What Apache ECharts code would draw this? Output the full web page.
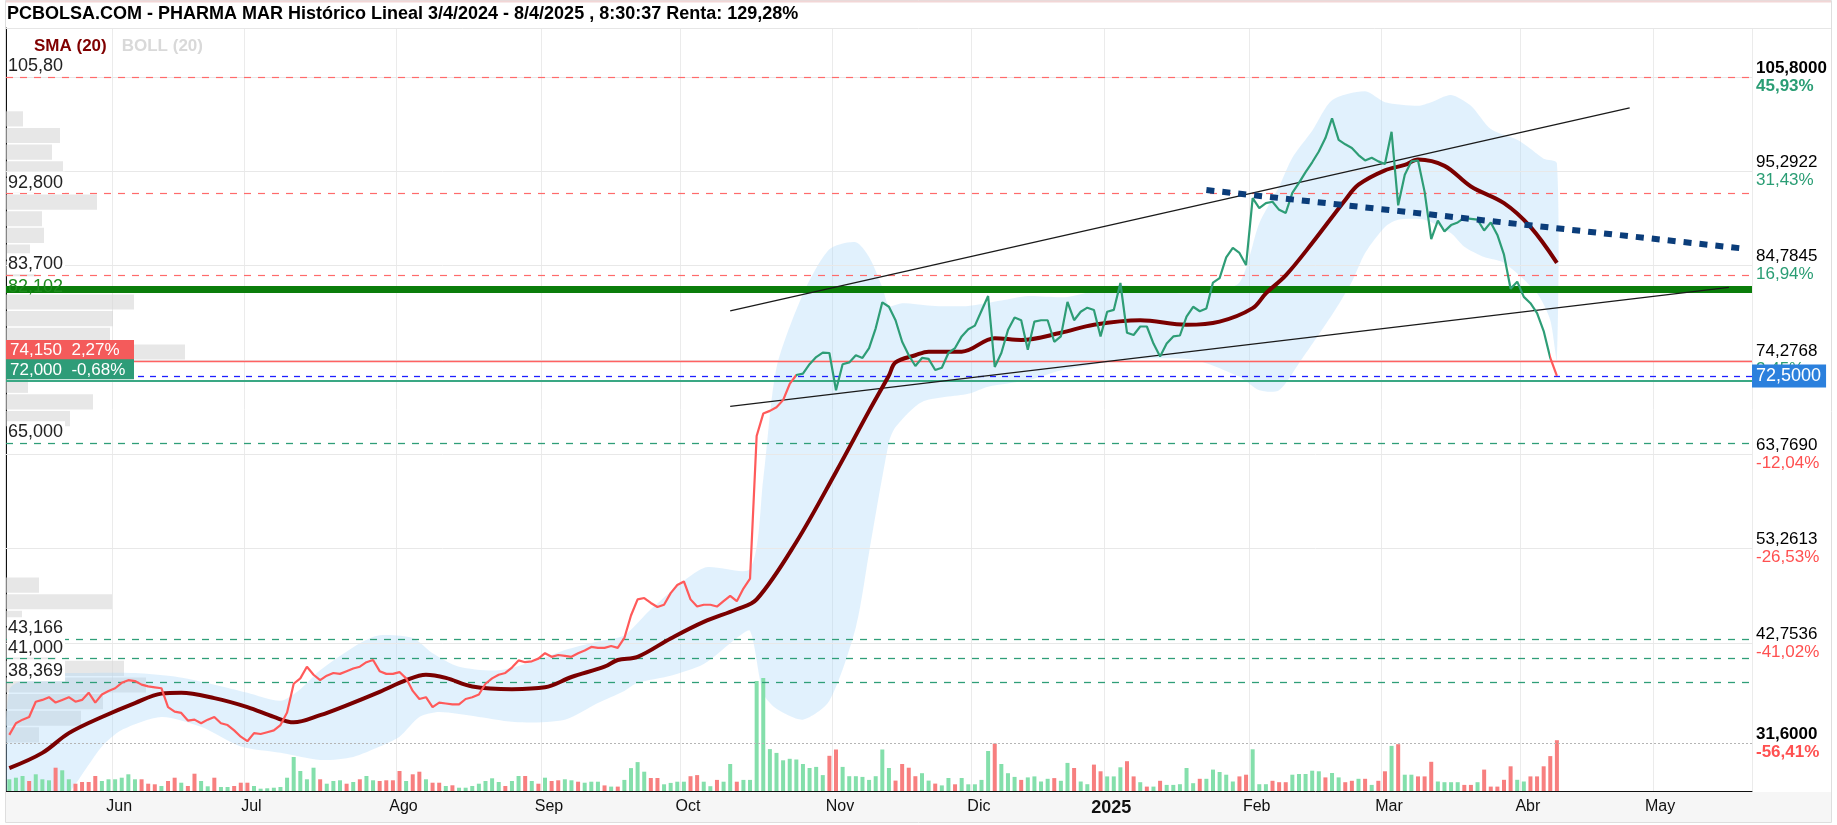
<!DOCTYPE html>
<html>
<head>
<meta charset="utf-8">
<script src="https://cdn.jsdelivr.net/npm/echarts@6/dist/echarts.min.js"></script>
<style>
  html, body { margin: 0; padding: 0; background: #fff; }
  #chart { width: 1837px; height: 825px; }
</style>
</head>
<body>
<div id="chart"></div>
<script>
// ---- data ----
const START = '2024-05-10', END = '2025-05-22'
const HOLIDAYS = ['2024-12-25', '2024-12-26', '2025-01-01', '2025-04-18', '2025-04-21', '2025-05-01']
const MONTHS = ['2025', 'Feb', 'Mar', 'Abr', 'May', 'Jun', 'Jul', 'Ago', 'Sep', 'Oct', 'Nov', 'Dic']

// daily close, 10/05/2024 .. 08/04/2025
const price = [
  32.5, 33.8, 34.2, 34.5, 36.2, 36.4, 36.7, 36.1, 36.4, 36.7,
  36.2, 36.4, 37.2, 36.1, 37.0, 37.4, 37.7, 38.3, 38.6, 38.5,
  38.1, 37.9, 37.8, 37.7, 35.6, 35.1, 34.95, 34.1, 34.2, 33.8,
  34.2, 34.5, 33.8, 33.6, 33.0, 32.3, 31.8, 32.7, 32.6, 32.8,
  33.0, 33.6, 35.0, 38.2, 38.8, 40.1, 39.2, 38.6, 39.1, 39.4,
  39.3, 39.6, 39.9, 40.1, 40.6, 40.85, 39.6, 39.3, 39.3, 39.5,
  38.8, 37.4, 36.5, 36.7, 35.6, 36.1, 36.0, 35.9, 35.9, 36.5,
  36.7, 37.0, 38.2, 38.8, 39.2, 39.4, 40.0, 40.8, 40.6, 40.7,
  41.0, 41.6, 41.2, 41.4, 41.3, 41.2, 41.6, 41.9, 42.3, 42.2,
  42.2, 42.4, 42.2, 43.3, 45.8, 47.6, 47.75, 47.2, 46.75, 47.0,
  48.3, 49.2, 49.6, 47.6, 46.8, 47.0, 47.0, 46.8, 47.4, 48.0,
  47.4, 48.8, 49.9, 65.8, 68.3, 68.6, 69.0, 69.8, 71.6, 72.6,
  72.75, 73.8, 74.6, 75.1, 75.05, 70.9, 73.8, 74.0, 74.8, 74.5,
  75.6, 77.8, 80.7, 80.2, 78.7, 76.3, 74.8, 73.6, 74.5, 74.4,
  73.15, 73.4, 75.05, 75.6, 76.9, 77.7, 78.1, 79.75, 81.4, 73.5,
  75.05, 77.6, 79.0, 78.7, 75.4, 78.55, 78.7, 78.7, 76.3, 76.9,
  80.75, 78.7, 79.65, 80.1, 79.85, 76.9, 79.65, 79.85, 82.85, 77.3,
  77.05, 78.0, 78.0, 76.1, 74.65, 76.1, 76.9, 77.0, 79.1, 80.2,
  79.7, 80.0, 82.9, 83.4, 85.7, 86.75, 86.2, 84.85, 92.3, 91.2,
  91.75, 91.9, 91.0, 90.65, 92.9, 94.0, 95.2, 96.3, 97.5, 99.0,
  101.2, 98.8, 98.3, 97.9, 97.1, 96.5, 96.8, 96.4, 96.1, 99.7,
  91.5, 94.9, 96.4, 96.5, 93.0, 87.75, 89.8, 88.6, 89.3, 89.6,
  90.1, 90.0, 89.9, 88.7, 89.6, 88.2, 86.0, 82.2, 83.0, 81.3,
  80.6, 79.5, 77.5, 74.5, 72.5
]

// daily volume (thousand shares) and bar colour (g = up, r = down)
const volume = [
  117, 133, 150, 100, 167, 117, 107, 233, 207, 117,
  73, 90, 90, 150, 100, 117, 117, 133, 167, 117,
  117, 73, 67, 50, 100, 133, 83, 50, 173, 100,
  47, 133, 40, 40, 50, 83, 83, 50, 23, 27,
  33, 40, 133, 340, 200, 117, 233, 117, 73, 100,
  107, 73, 90, 117, 150, 107, 100, 107, 107, 200,
  100, 167, 193, 117, 83, 83, 50, 57, 33, 33,
  50, 73, 100, 127, 90, 50, 100, 150, 150, 100,
  73, 133, 100, 107, 117, 107, 93, 83, 93, 93,
  56, 44, 44, 111, 229, 289, 193, 130, 130, 67,
  81, 93, 93, 148, 159, 93, 48, 111, 93, 270,
  93, 111, 111, 1100, 1130, 419, 381, 307, 322, 315,
  270, 230, 241, 159, 352, 415, 241, 148, 148, 141,
  111, 148, 415, 230, 104, 270, 233, 148, 178, 104,
  74, 56, 130, 67, 130, 67, 67, 111, 400, 474,
  270, 178, 141, 111, 136, 146, 95, 122, 129, 102,
  281, 230, 95, 68, 264, 197, 146, 146, 237, 298,
  146, 88, 44, 44, 102, 61, 61, 68, 230, 78,
  122, 122, 214, 190, 163, 95, 146, 163, 417, 68,
  68, 102, 88, 88, 163, 170, 170, 203, 197, 136,
  180, 136, 88, 102, 122, 122, 61, 102, 197, 451,
  468, 163, 163, 146, 146, 292, 95, 88, 88, 88,
  61, 61, 88, 214, 44, 44, 112, 247, 112, 95,
  146, 146, 247, 349, 508
]
const volumeDir =
  'gggrgggrgg' + 'rrrrgggggg' + 'rrrgrrgrrg' + 'grggrrrggg' + 'gggggggrgg' +
  'grgrggrrrr' + 'grrgrrgrgg' + 'gggggrggrg' + 'rgrrggrggg' + 'rgrggggrrg' +
  'gggrrggrgg' + 'rggggggggg' + 'ggggrrgggg' + 'ggggrrrrgg' + 'rggrgggggr' +
  'gggrggggrg' + 'grggrrgggr' + 'rgrgrggggg' + 'rgggggrrgg' + 'grrrgggggr' +
  'ggrrgrgrrg' + 'rggrrrgggg' + 'rrgrrrrrgg' + 'rrrrr'

// SMA(20) read at [day index, value]
const sma = [
  [0, 28.8], [5, 30.5], [9, 32.7], [14, 34.5], [19, 36.05], [23, 37.1], [26, 37.2],
  [31, 36.6], [36, 35.6], [40, 34.5], [43, 33.9], [47, 34.7], [51, 35.8], [56, 37.3],
  [60, 38.6], [63, 39.2], [66, 38.85], [70, 37.9], [76, 37.6], [81, 37.8], [85, 38.95],
  [90, 40.1], [92, 40.85], [95, 41.2], [100, 43.25], [105, 45.1], [110, 46.5], [113, 47.6],
  [119, 54.0], [125, 61.8], [130, 68.6], [133, 72.55], [134, 74.0], [137, 74.8], [139, 75.2],
  [144, 75.2], [149, 76.7], [153, 76.5], [159, 77.3], [164, 78.2], [171, 78.7], [178, 78.2],
  [183, 78.55], [188, 80.05], [190, 81.7], [193, 83.7], [197, 87.3], [202, 92.1], [204, 93.8],
  [208, 95.4], [211, 96.0], [213, 96.6], [217, 95.9], [221, 93.6], [226, 91.75], [230, 89.1],
  [234, 85.1]
]

// Bollinger(20) bands read at [day index, value]
const bollUpper = [
  [0, 37.5], [5, 39.2], [11, 39.4], [19, 39.4], [25, 39.0], [31, 38.1], [36, 37.2],
  [41, 36.3], [44, 37.6], [47, 39.7], [53, 42.7], [56, 43.6], [61, 43.3], [64, 41.6],
  [68, 40.1], [74, 39.7], [80, 40.85], [84, 41.95], [89, 42.9], [93, 43.6], [97, 46.5],
  [105, 51.1], [112, 51.0], [114, 61.0], [116, 73.4], [120, 81.6], [124, 86.6], [128, 87.4],
  [130, 85.75], [132, 82.4], [133, 80.3], [135, 80.6], [140, 80.3], [145, 80.3], [150, 80.9],
  [154, 81.4], [160, 81.3], [168, 82.6], [175, 81.8], [181, 81.8], [186, 82.9], [189, 89.5],
  [192, 93.6], [194, 96.8], [197, 99.8], [200, 103.2], [205, 104.2], [208, 103.0], [213, 102.6],
  [215, 103.0], [218, 103.8], [221, 102.6], [224, 100.0], [228, 98.8], [230, 97.8], [232, 96.7],
  [234, 96.2]
]
const bollLower = [
  [0, 20.0], [5, 23.0], [9, 26.0], [14, 31.2], [17, 33.05], [23, 34.5], [29, 33.4],
  [35, 31.2], [41, 30.5], [47, 29.7], [52, 30.05], [56, 31.2], [59, 32.3], [62, 34.5],
  [65, 35.05], [71, 34.5], [77, 33.9], [84, 34.2], [89, 36.05], [93, 37.4], [95, 38.3],
  [100, 39.1], [105, 40.4], [110, 43.3], [112, 44.1], [114, 37.1], [116, 35.4], [120, 34.2],
  [124, 36.3], [128, 44.5], [130, 52.8], [133, 65.1], [134, 66.8], [138, 69.6], [145, 70.5],
  [148, 71.3], [154, 72.0], [159, 73.1], [169, 74.3], [179, 74.3], [186, 72.4], [189, 70.9],
  [192, 70.9], [195, 73.9], [200, 79.3], [203, 83.0], [205, 86.2], [208, 89.1], [210, 89.9],
  [214, 89.9], [218, 88.4], [220, 86.9], [223, 85.75], [226, 85.1], [231, 81.7], [233, 78.7],
  [234, 74.3]
]

// volume by price, 40 bins from the low (31.60) to the high (105.80)
const PROFILE_LOW = 31.6, PROFILE_HIGH = 105.8
const profile = [
  33, 75, 97, 140, 118, 50, 40, 16, 106, 33,
  0, 0, 0, 0, 0, 0, 0, 0, 0, 64,
  87, 22, 70, 179, 104, 107, 128, 0, 30, 24,
  38, 36, 91, 30, 57, 46, 54, 17, 0, 0
]

// right axis
const LAST = 72.5
const axisTicks = [31.6, 42.7536, 53.2613, 63.769, 74.2768, 84.7845, 95.2922, 105.8]
const axisValueLabels = ['31,6000', '42,7536', '53,2613', '63,7690', '74,2768', '84,7845', '95,2922', '105,8000']
const axisPctLabels = ['-56,41%', '-41,02%', '-26,53%', '-12,04%', '2,45%', '16,94%', '31,43%', '45,93%']

// horizontal levels
const resistLevels = [105.8, 92.8, 83.7]
const resistLabels = ['105,80', '92,800', '83,700']
const supportLevels = [65, 43.166, 41, 38.369]
const supportLabels = ['65,000', '43,166', '41,000', '38,369']
const keyLevel = 82.102
const stopHigh = 74.15, stopLow = 72.0

// drawn trend lines [day index, value]
const channelTop = [[109, 79.75], [245, 102.35]]
const channelBottom = [[109, 69.1], [260, 82.35]]
const downTrend = [[181, 93.2], [262, 86.7]]

// ---- helpers ----
function tradingDays(start, end, skip) {
  const out = []
  const d = new Date(start + 'T00:00:00Z')
  const stop = new Date(end + 'T00:00:00Z')
  while (d <= stop) {
    const s = d.toISOString().slice(0, 10)
    const wd = d.getUTCDay()
    if (wd !== 0 && wd !== 6 && !skip.includes(s)) out.push(s)
    d.setUTCDate(d.getUTCDate() + 1)
  }
  return out
}
const dates = tradingDays(START, END, HOLIDAYS)
const monthStart = dates.map((d, i) => i > 0 && d.slice(5, 7) !== dates[i - 1].slice(5, 7))

const RED = '#ff5a5a', GREEN = '#2e9d76'
const FONT = 'Liberation Sans, Arial, sans-serif'
const Y_MIN = 26.25, Y_MAX = 111.26

const leftLabel = (text) => ({
  show: true, position: 'insideStartTop', distance: [1, 1], formatter: text,
  color: '#222', fontSize: 18, fontFamily: FONT,
  backgroundColor: '#fff', padding: [1, 2, 0, 1], lineHeight: 20
})
const boxLabel = (text, bg) => ({
  show: true, position: 'insideStartTop', distance: [0, 1], formatter: text,
  color: '#fff', backgroundColor: bg, width: 120, align: 'left',
  padding: [1, 4, 0, 4], lineHeight: 19, fontSize: 17, fontFamily: FONT
})

const levelLines = [
  ...resistLevels.map((v, k) => ({
    yAxis: v, lineStyle: { color: '#ff6b6b', type: [7, 7], width: 1.2 }, label: leftLabel(resistLabels[k])
  })),
  ...supportLevels.map((v, k) => ({
    yAxis: v, lineStyle: { color: '#2f9e78', type: [7, 7], width: 1.3 }, label: leftLabel(supportLabels[k])
  })),
  {
    yAxis: keyLevel, lineStyle: { color: 'rgba(0,0,0,0)', width: 1 },
    label: { show: true, position: 'insideStartTop', distance: [2, -6], formatter: '82,102', color: '#1d8a1d', fontSize: 18, lineHeight: 18, fontFamily: FONT }
  },
  { yAxis: stopHigh, lineStyle: { color: '#ff6262', type: 'solid', width: 1.4 }, label: boxLabel('74,150  2,27%', '#f45b5b') },
  { yAxis: stopLow, lineStyle: { color: '#3aa884', type: 'solid', width: 1.8 }, label: boxLabel('72,000  -0,68%', '#2e9c78') },
  {
    yAxis: LAST, lineStyle: { color: '#1f1fff', type: [6, 6], width: 1.3 },
    label: { show: true, position: 'end', distance: 0, formatter: '72,5000', color: '#fff', backgroundColor: '#2b80dd', padding: [2, 5, 1, 4], lineHeight: 20, fontSize: 18, fontFamily: FONT }
  },
  { yAxis: PROFILE_LOW, lineStyle: { color: '#b5b5b5', type: [2, 2], width: 1 }, label: { show: false } }
]

const gridLines = axisTicks.slice(1).map(v => ({ yAxis: v }))

const chart = echarts.init(document.getElementById('chart'))
chart.setOption({
  animation: false,
  backgroundColor: '#fff',
  textStyle: { fontFamily: FONT },
  grid: [
    { left: 6, right: 85, top: 28, bottom: 34 },
    { left: 6, right: 85, top: 28, bottom: 34 }
  ],
  legend: {
    left: 24, top: 33, icon: 'none', itemWidth: 0, itemHeight: 0, itemGap: 10, selectedMode: false,
    textStyle: { fontWeight: 'bold', fontSize: 17, fontFamily: FONT },
    data: [
      { name: 'SMA (20)', textStyle: { color: '#800000' } },
      { name: 'BOLL (20)', textStyle: { color: '#d9d9d9' } }
    ]
  },
  graphic: [
    { type: 'rect', z: -10, shape: { x: 6, y: 792, width: 1825, height: 30 }, style: { fill: '#f6f6f6' } },
    { type: 'rect', z: 100, shape: { x: 5.5, y: 0.5, width: 1826, height: 822 }, style: { fill: 'none', stroke: '#dedede', lineWidth: 1 } },
    { type: 'line', z: 100, shape: { x1: 6, y1: 28.5, x2: 1831, y2: 28.5 }, style: { stroke: '#e6e6e6', lineWidth: 1 } },
    { type: 'line', z: 100, shape: { x1: 6, y1: 1.5, x2: 1831, y2: 1.5 }, style: { stroke: '#f2d6d6', lineWidth: 2 } },
    {
      type: 'text', z: 100, left: 7, top: 5,
      style: { text: 'PCBOLSA.COM - PHARMA MAR Histórico Lineal 3/4/2024 - 8/4/2025 , 8:30:37 Renta: 129,28%', font: 'bold 18px ' + FONT, fill: '#000' }
    }
  ],
  xAxis: [
    {
      type: 'category', gridIndex: 0, data: dates, boundaryGap: true,
      axisLine: { lineStyle: { color: '#111', width: 1 } },
      axisTick: { show: false },
      axisLabel: {
        interval: (i) => monthStart[i], margin: 8, color: '#111', fontSize: 16, fontFamily: FONT,
        padding: [0, 0, 0, 8],
        formatter: (v) => {
          const m = +v.slice(5, 7) - 1
          return m === 0 ? '{b|' + MONTHS[0] + '}' : MONTHS[m]
        },
        rich: { b: { fontWeight: 'bold', fontSize: 18, color: '#111' } }
      },
      splitLine: { show: true, interval: (i) => monthStart[i], lineStyle: { color: '#ebebeb', width: 1 } }
    },
    { type: 'category', gridIndex: 1, data: dates, boundaryGap: true, show: false },
    { type: 'value', gridIndex: 0, min: 0, max: 1746, show: false }
  ],
  yAxis: [
    {
      type: 'value', gridIndex: 0, min: Y_MIN, max: Y_MAX, position: 'right',
      axisLine: { show: true, lineStyle: { color: '#111' } },
      axisTick: { show: false }, splitLine: { show: false },
      axisLabel: {
        customValues: axisTicks, margin: 4, fontFamily: FONT,
        formatter: (v) => {
          const k = axisTicks.indexOf(v)
          const edge = k === 0 || k === axisTicks.length - 1
          const pct = axisPctLabels[k]
          const pStyle = (pct[0] === '-' ? 'r' : 'g') + (edge ? 'b' : '')
          return '{' + (edge ? 'vb' : 'v') + '|' + axisValueLabels[k] + '}\n{' + pStyle + '|' + pct + '}'
        },
        rich: {
          v: { color: '#000', fontSize: 17, lineHeight: 18 },
          vb: { color: '#000', fontSize: 17, lineHeight: 18, fontWeight: 'bold' },
          g: { color: '#2a9d74', fontSize: 17, lineHeight: 18 },
          gb: { color: '#2a9d74', fontSize: 17, lineHeight: 18, fontWeight: 'bold' },
          r: { color: '#ff5050', fontSize: 17, lineHeight: 18 },
          rb: { color: '#ff5050', fontSize: 17, lineHeight: 18, fontWeight: 'bold' }
        }
      }
    },
    { type: 'value', gridIndex: 1, min: 0, max: 7630, show: false }
  ],
  visualMap: {
    type: 'piecewise', show: false, seriesIndex: 7, dimension: 0,
    pieces: [
      { lt: 118.8, color: RED },
      { gte: 118.8, lt: 232.6, color: GREEN },
      { gte: 232.6, color: RED }
    ]
  },
  series: [
    { // 0 horizontal grid lines
      type: 'line', data: [], z: 0, silent: true,
      markLine: { symbol: 'none', silent: true, label: { show: false }, lineStyle: { color: '#e8e8e8', type: 'solid', width: 1 }, data: gridLines }
    },
    { // 1 volume by price
      type: 'custom', xAxisIndex: 2, yAxisIndex: 0, z: 1, silent: true,
      data: profile.map((w, k) => {
        const step = (PROFILE_HIGH - PROFILE_LOW) / profile.length
        return [w, PROFILE_LOW + k * step, PROFILE_LOW + (k + 1) * step]
      }),
      renderItem: (params, api) => {
        const w = api.value(0)
        if (!w) return null
        const a = api.coord([0, api.value(2)])
        const b = api.coord([w, api.value(1)])
        return { type: 'rect', shape: { x: a[0], y: a[1] + 1, width: b[0] - a[0], height: b[1] - a[1] - 1.5 }, style: { fill: 'rgba(215,215,215,0.6)' } }
      }
    },
    { // 2 bollinger band
      name: 'BOLL (20)', type: 'custom', xAxisIndex: 0, yAxisIndex: 0, z: 2, silent: true, clip: true,
      data: [[0, 50]],
      renderItem: (params, api) => {
        const pts = bollUpper.map(p => api.coord(p)).concat(bollLower.slice().reverse().map(p => api.coord(p)))
        return { type: 'polygon', shape: { points: pts, smooth: 0.25 }, style: { fill: 'rgba(170,215,248,0.35)' } }
      }
    },
    { // 3 volume
      type: 'bar', xAxisIndex: 1, yAxisIndex: 1, z: 3, silent: true, barWidth: 4,
      data: volume.map((v, i) => ({ value: v, itemStyle: { color: volumeDir[i] === 'g' ? '#84dfab' : '#f77f7f' } }))
    },
    { // 4 levels
      type: 'line', data: [], z: 4, silent: true,
      markLine: { symbol: 'none', silent: true, data: levelLines }
    },
    { // 5 channel top
      type: 'line', data: channelTop, z: 5, silent: true, showSymbol: false, symbol: 'none',
      lineStyle: { color: '#1a1a1a', width: 1.3 }
    },
    { // 6 channel bottom
      type: 'line', data: channelBottom, z: 5, silent: true, showSymbol: false, symbol: 'none',
      lineStyle: { color: '#1a1a1a', width: 1.3 }
    },
    { // 7 price
      type: 'line', data: price, z: 6, silent: true, showSymbol: false, symbol: 'none',
      lineStyle: { width: 2.2 }
    },
    { // 8 SMA
      name: 'SMA (20)', type: 'line', data: sma, z: 5, silent: true, smooth: 0.35, showSymbol: false, symbol: 'none',
      itemStyle: { color: '#800000' }, lineStyle: { color: '#7a0000', width: 4 }
    },
    { // 9 falling trend
      type: 'line', data: downTrend, z: 6, silent: true, showSymbol: false, symbol: 'none',
      lineStyle: { color: '#0b3d7a', width: 6, type: [8, 8] }
    },
    { // 10 key level
      type: 'line', data: [], z: 7, silent: true,
      markLine: { symbol: 'none', silent: true, label: { show: false }, lineStyle: { color: '#0a7d0a', width: 7, type: 'solid' }, data: [{ yAxis: keyLevel }] }
    }
  ]
})
</script>
</body>
</html>
